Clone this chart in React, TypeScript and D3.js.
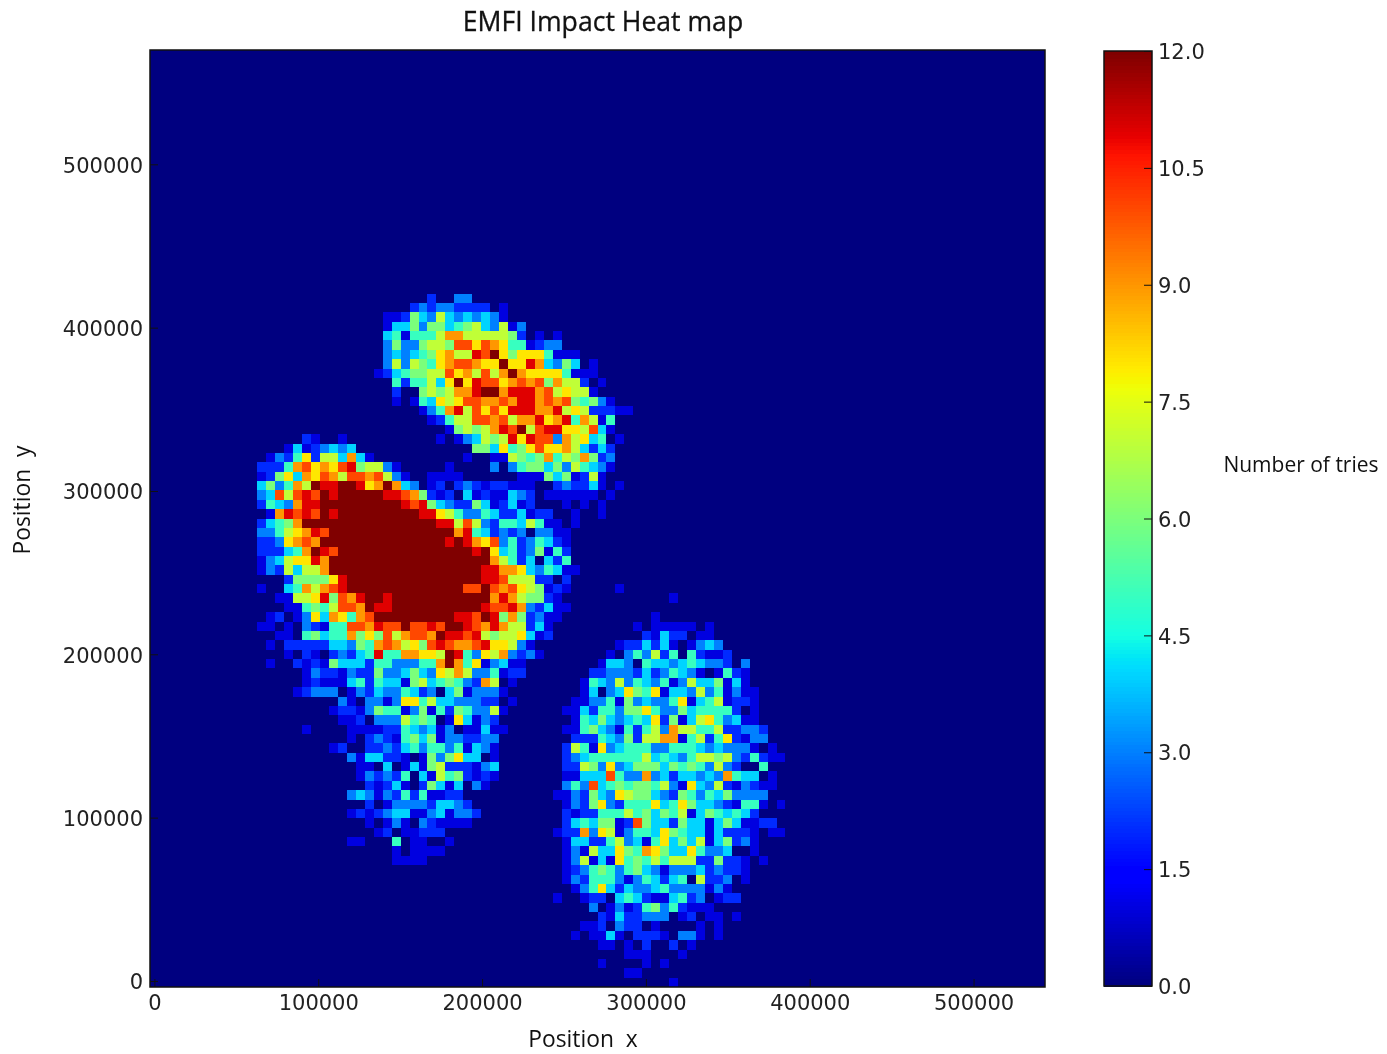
import React, { useEffect, useRef } from "react";
import * as d3 from "d3";

// tick values
const xTicks = [0, 100000, 200000, 300000, 400000, 500000];
const yTicks = [0, 100000, 200000, 300000, 400000, 500000];
const barTicks = [0, 1.5, 3, 4.5, 6, 7.5, 9, 10.5, 12];

const chartTitle = "EMFI Impact Heat map";
const xLabel = "Position  x";
const yLabel = "Position  y";
const barLabel = "Number of tries";

// 100 x 100 bins, row 0 at the top. [row, first column, counts in base 13]
const heatRuns: [number, number, string][] = [
  [26, 31, "20033"],
  [27, 29, "23233222201"],
  [28, 26, "11264374343431"],
  [29, 26, "1446366456743713"],
  [30, 26, "45155579977777620101"],
  [31, 26, "36336776aa8a98551233"],
  [32, 26, "3434568977bac868885111"],
  [33, 26, "37376589aa988c88b9436401"],
  [34, 25, "12456677a897a79c988885111"],
  [35, 27, "5255748c8baa89a9a6977201"],
  [36, 27, "200676799bcc9bbb9a78771"],
  [37, 27, "10154878aa99a9bb9a9a65631"],
  [38, 30, "1359b7a8a8bbb99b78722211"],
  [39, 31, "12577aa9a799b89b59715"],
  [40, 33, "167679bac7abb887a41"],
  [41, 17, "21001"],
  [41, 32, "10134767b8baa39784501"],
  [42, 15, "14123434"],
  [42, 36, "6648568a88974242"],
  [43, 13, "132582774941"],
  [43, 35, "10011765695769623"],
  [44, 12, "22259a898ab67731"],
  [44, 33, "1000030356646375431"],
  [45, 12, "1268498a97aa9a731"],
  [45, 31, "11110000001116461271"],
  [46, 12, "463597cbbccb89c94301202321221110023224101"],
  [47, 12, "34a7abacbcccccbba96212041211432011111101"],
  [48, 12, "25439bbcccccccccbab64322641241200010101"],
  [49, 13, "19babacbcccccccccbb8753354224122001001"],
  [50, 12, "24569cccccccccccccccbb7a732554751101"],
  [51, 12, "335789bacccccccccccccc9b54232303311"],
  [52, 12, "22389a9ccccccccccccccbcb98a35235421"],
  [53, 12, "222459cbacccccccccccccccbc845236152"],
  [54, 12, "134788b9cccccccccccccccccc975240425"],
  [55, 12, "13274779cccccccccccccccccbb998435411"],
  [56, 15, "266668bcccccccccccccccbba7772202"],
  [57, 12, "10045979abcccccccccccccaaca9a876121000001"],
  [58, 14, "11778b6a9bccbccccccccccc9b976621"],
  [58, 58, "1"],
  [59, 15, "115657aa9cbbccccccccccbaab932411"],
  [60, 13, "12013849859acccccccccbbacb6962311"],
  [60, 56, "1"],
  [61, 12, "1101032155aa9baacaabaccba9b977241"],
  [61, 54, "101111101"],
  [62, 14, "110564559686a79aa9cbbab76778412"],
  [62, 55, "21422011"],
  [63, 13, "1022222443659a9786aba99ab88731"],
  [63, 52, "122424101343"],
  [64, 15, "1021023245b5599887cb538793231"],
  [64, 51, "10353725052112"],
  [65, 13, "10021216444255333559c95813411"],
  [65, 50, "14430544345433203"],
  [66, 17, "1322132263346438797335122"],
  [66, 49, "223332423543101521"],
  [67, 17, "121114525441674565329701"],
  [67, 48, "1543735435137446141"],
  [68, 16, "123330132433542304613331"],
  [68, 48, "14034865814437351311"],
  [69, 21, "31033138857443332201"],
  [69, 47, "113351634335814571221"],
  [70, 20, "12213655136152653371"],
  [70, 46, "1142553668533645555201"],
  [71, 21, "112033375650184132"],
  [71, 47, "154643454826147853411"],
  [72, 17, "10000111122543413011411"],
  [72, 46, "11564315257397755722332"],
  [73, 22, "10232156461332233"],
  [73, 47, "2225436277991572582133"],
  [74, 20, "1200223245355351431"],
  [74, 46, "275183455533555434333101"],
  [75, 22, "31442210163684401"],
  [75, 46, "2345555557454357767325211"],
  [76, 23, "1104014167222134"],
  [76, 46, "22763834666465653732005"],
  [77, 23, "1323250417562121"],
  [77, 46, "11444a533934244343954401"],
  [78, 24, "21241026414031"],
  [78, 46, "353a45656657318437213211"],
  [79, 22, "3431325251122"],
  [79, 45, "113264387664326535463333"],
  [80, 24, "201333324432"],
  [80, 46, "1326832555845864432155101"],
  [81, 22, "121234411341332"],
  [81, 46, "2122555756465714654542"],
  [82, 24, "101310321111"],
  [82, 46, "24546612a644264414641122"],
  [83, 25, "12011222"],
  [83, 45, "12293871355486544142221011"],
  [84, 22, "110005011001"],
  [84, 46, "1442257341584647146231"],
  [85, 27, "101111"],
  [85, 46, "1317448659864485334001"],
  [86, 27, "1111"],
  [86, 46, "13714185657577722622101"],
  [87, 46, "123565356431333423221"],
  [88, 46, "132555313542450722301"],
  [89, 47, "135842433453333131"],
  [90, 45, "100122045421145230122"],
  [91, 49, "30131256352111"],
  [92, 50, "2142233301201101"],
  [93, 48, "1120322010000101"],
  [94, 47, "10114102221033101"],
  [95, 50, "11010200201"],
  [96, 53, "1110001"],
  [97, 50, "10000101"],
  [98, 53, "11"],
  [99, 58, "1"],
  [57, 52, "1"],
];

const width = 1387;
const height = 1054;
const gridSize = 100;
const maxCount = 12;

const xDomain = [-2700, 543600];
const yDomain = [-3700, 570000];

const plot = { left: 150, right: 1045, top: 50, bottom: 987 };
const bar = { left: 1104, right: 1152, top: 51, bottom: 986 };

// matplotlib "jet" segments
const jetR = d3.scaleLinear([0, 0.35, 0.66, 0.89, 1], [0, 0, 1, 1, 0.5]);
const jetG = d3.scaleLinear([0, 0.125, 0.375, 0.64, 0.91, 1], [0, 0, 1, 1, 0, 0]);
const jetB = d3.scaleLinear([0, 0.11, 0.34, 0.65, 1], [0.5, 1, 1, 0, 0]);

const jet = (v: number) => {
  const t = v / maxCount;
  return d3.rgb(jetR(t) * 255, jetG(t) * 255, jetB(t) * 255).formatHex();
};

const App = () => {
  const svgRef = useRef<SVGSVGElement>(null);

  useEffect(() => {
    const svg = d3.select(svgRef.current);
    svg.selectAll("*").remove();

    const x = d3.scaleLinear().domain(xDomain).range([plot.left, plot.right]);
    const y = d3.scaleLinear().domain(yDomain).range([plot.bottom, plot.top]);
    const c = d3.scaleLinear().domain([0, maxCount]).range([bar.bottom, bar.top]);

    const binX = (xDomain[1] - xDomain[0]) / gridSize;
    const binY = (yDomain[1] - yDomain[0]) / gridSize;

    const cells = heatRuns.flatMap(([row, col, digits]) =>
      Array.from(digits, (ch, i) => ({
        row,
        col: col + i,
        value: parseInt(ch, 13),
      })).filter((d) => d.value > 0)
    );

    // heat map
    svg
      .append("rect")
      .attr("x", plot.left)
      .attr("y", plot.top)
      .attr("width", plot.right - plot.left)
      .attr("height", plot.bottom - plot.top)
      .attr("fill", jet(0));

    svg
      .append("g")
      .attr("shape-rendering", "crispEdges")
      .selectAll("rect")
      .data(cells)
      .join("rect")
      .attr("x", (d) => Math.round(x(xDomain[0] + d.col * binX)))
      .attr("y", (d) => Math.round(y(yDomain[1] - d.row * binY)))
      .attr(
        "width",
        (d) =>
          Math.round(x(xDomain[0] + (d.col + 1) * binX)) -
          Math.round(x(xDomain[0] + d.col * binX))
      )
      .attr(
        "height",
        (d) =>
          Math.round(y(yDomain[1] - (d.row + 1) * binY)) -
          Math.round(y(yDomain[1] - d.row * binY))
      )
      .attr("fill", (d) => jet(d.value));

    svg
      .append("rect")
      .attr("x", plot.left)
      .attr("y", plot.top)
      .attr("width", plot.right - plot.left)
      .attr("height", plot.bottom - plot.top)
      .attr("fill", "none")
      .attr("stroke", "#111")
      .attr("stroke-width", 1.5);

    const styleAxis = (g: any) => {
      g.select(".domain").remove();
      g.selectAll("line").attr("stroke", "#111");
      g.selectAll("text")
        .attr("fill", "#222")
        .attr("font-family", "'DejaVu Sans'")
        .attr("font-size", 21);
    };

    svg
      .append("g")
      .attr("transform", `translate(0,${plot.bottom})`)
      .call(
        d3
          .axisBottom(x)
          .tickValues(xTicks)
          .tickFormat(d3.format("d") as any)
          .tickSize(-8)
          .tickPadding(8)
      )
      .call(styleAxis);

    svg
      .append("g")
      .attr("transform", `translate(${plot.left},0)`)
      .call(
        d3
          .axisLeft(y)
          .tickValues(yTicks)
          .tickFormat(d3.format("d") as any)
          .tickSize(-8)
          .tickPadding(7)
      )
      .call(styleAxis)
      .call((g) => g.selectAll("text").attr("y", 1));

    // colorbar
    const levels = d3.range(256).map((i) => (i / 255) * maxCount);
    const step = (bar.bottom - bar.top) / levels.length;
    svg
      .append("g")
      .attr("shape-rendering", "crispEdges")
      .selectAll("rect")
      .data(levels)
      .join("rect")
      .attr("x", bar.left)
      .attr("width", bar.right - bar.left)
      .attr("y", (d, i) => c((i / levels.length) * maxCount) - step - 0.5)
      .attr("height", step + 1)
      .attr("fill", (d) => jet(d));

    svg
      .append("rect")
      .attr("x", bar.left)
      .attr("y", bar.top)
      .attr("width", bar.right - bar.left)
      .attr("height", bar.bottom - bar.top)
      .attr("fill", "none")
      .attr("stroke", "#111")
      .attr("stroke-width", 1.5);

    svg
      .append("g")
      .attr("transform", `translate(${bar.right},0)`)
      .call(
        d3
          .axisRight(c)
          .tickValues(barTicks)
          .tickFormat(d3.format(".1f") as any)
          .tickSize(-8)
          .tickPadding(6)
      )
      .call(styleAxis)
      .call((g) => g.selectAll("text").attr("y", 1));

    // titles
    const label = (text: string, px: number, py: number, size: number) =>
      svg
        .append("text")
        .attr("x", px)
        .attr("y", py)
        .attr("text-anchor", "middle")
        .attr("font-family", "'Open Sans'")
        .attr("font-size", size)
        .attr("fill", "#111")
        .style("white-space", "pre")
        .text(text);

    label(chartTitle, 603, 31, 26.6).attr("stroke", "#111").attr("stroke-width", 0.3);
    label(xLabel, 583, 1047.2, 22.8);
    label(barLabel, 1301, 472, 21);
    label(yLabel, 0, 0, 22.8).attr("transform", "translate(30,500) rotate(-90)");
  }, []);

  return (
    <svg
      ref={svgRef}
      width={width}
      height={height}
      style={{
        position: "absolute",
        left: 0,
        top: 0,
        background: "#fff",
        filter: "blur(0.5px)",
      }}
    />
  );
};

export default App;
